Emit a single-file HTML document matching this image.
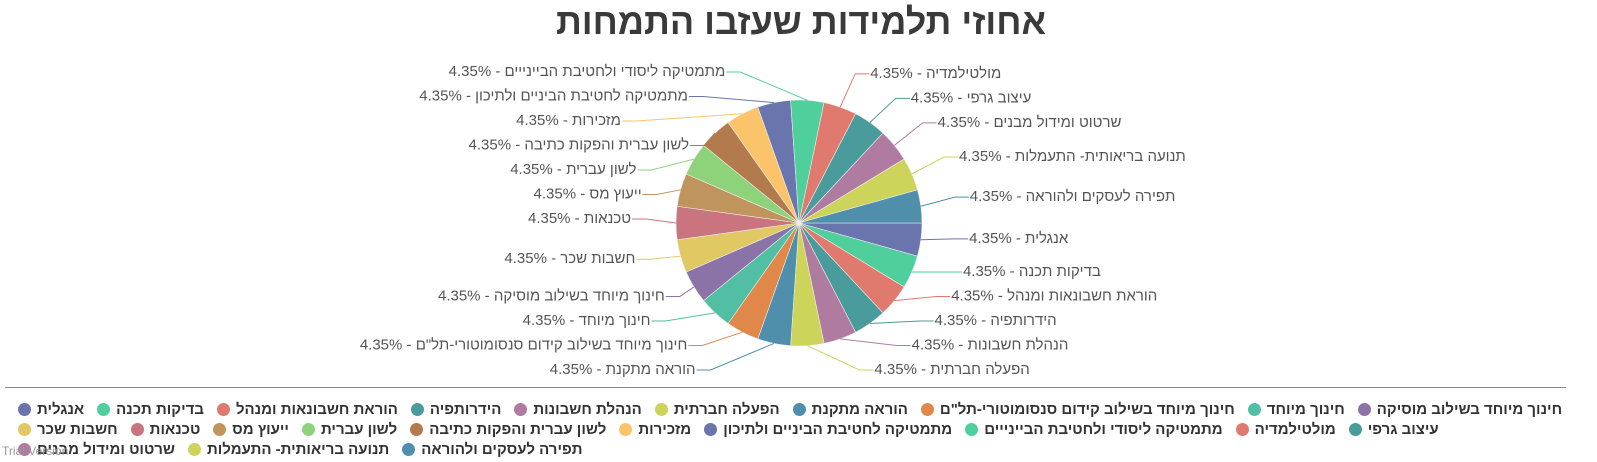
<!DOCTYPE html>
<html><head><meta charset="utf-8">
<style>
body{margin:0;background:#fff;width:1597px;height:462px;overflow:hidden;position:relative;font-family:"Liberation Sans","DejaVu Sans",sans-serif}
#title{position:absolute;left:0;width:1602px;top:1px;text-align:center;font-size:36px;font-weight:bold;color:#3a3a3a;direction:rtl}
#sep{position:absolute;left:5px;width:1561px;top:387px;height:1px;background:#888}
#legend{position:absolute;left:18px;top:400px;width:1570px;display:flex;flex-wrap:wrap;column-gap:13px;row-gap:1px}
.li{display:flex;align-items:center;font-size:15px;font-weight:bold;color:#333;height:19px;white-space:nowrap}
.dot{width:13px;height:13px;border-radius:50%;margin-right:6px}
#trial{position:absolute;left:2px;top:444px;font-size:12px;color:#999}
svg{position:absolute;left:0;top:0}
</style></head><body>
<div id="title">אחוזי תלמידות שעזבו התמחות</div>
<svg id="chart" width="1597" height="385"></svg>
<div id="sep"></div>
<div id="legend"></div>
<div id="trial">Trial Version</div>
<script>
const categories=["אנגלית","בדיקות תכנה","הוראת חשבונאות ומנהל","הידרותפיה","הנהלת חשבונות","הפעלה חברתית","הוראה מתקנת","חינוך מיוחד בשילוב קידום סנסומוטורי-תל\"ם","חינוך מיוחד","חינוך מיוחד בשילוב מוסיקה","חשבות שכר","טכנאות","ייעוץ מס","לשון עברית","לשון עברית והפקות כתיבה","מזכירות","מתמטיקה לחטיבת הביניים ולתיכון","מתמטיקה ליסודי ולחטיבת הביינייים","מולטילמדיה","עיצוב גרפי","שרטוט ומידול מבנים","תנועה בריאותית- התעמלות","תפירה לעסקים ולהוראה"];
const values=[4.35,4.35,4.35,4.35,4.35,4.35,4.35,4.35,4.35,4.35,4.35,4.35,4.35,4.35,4.35,4.35,4.35,4.35,4.35,4.35,4.35,4.35,4.35];
const palette=["#6a74ad","#4fcf9b","#e07a6f","#4a9b9b","#b07ba0","#cdd45a","#4f8fac","#e0874a","#52bfa5","#8b73a8","#e0c862","#c9747e","#c0955d","#8ed37a","#b37a4d","#fbc46a"];
// label layout tweaks (horizontal pixel nudges, layout only)
const labelNudge={17:-34,16:-10,15:-49,14:37,13:-4,12:8,9:15,8:-16,7:-5,6:-46,5:18,4:6,3:3,19:8,20:8,21:7,22:5,0:3,1:4,2:3};
const NS="http://www.w3.org/2000/svg";
const svg=document.getElementById('chart');
const cx=799,cy=223,r=123;
const total=values.reduce((a,b)=>a+b,0);
function mk(t,a){const e=document.createElementNS(NS,t);for(const k in a)e.setAttribute(k,a[k]);return e;}
let ang=0;const labels=[];
values.forEach((v,i)=>{
  const a0=ang,a1=ang+v/total*Math.PI*2;ang=a1;
  const col=palette[i%palette.length];
  const p=mk('path',{d:`M${cx},${cy}L${cx+r*Math.cos(a0)},${cy+r*Math.sin(a0)}A${r},${r} 0 ${a1-a0>Math.PI?1:0} 1 ${cx+r*Math.cos(a1)},${cy+r*Math.sin(a1)}Z`,fill:col,stroke:'#eee','stroke-width':0.6});
  
  
  svg.appendChild(p);
  const mid=(a0+a1)/2,deg=mid*180/Math.PI;
  const right=(deg<90||deg>280);
  labels.push({i,mid,right,col,y:cy+(r+30)*Math.sin(mid)-5});
});
[true,false].forEach(side=>{
  const L=labels.filter(l=>l.right===side).sort((a,b)=>a.y-b.y);
  const sp=24.5,top=72,bot=370;
  for(let k=0;k<L.length;k++){if(k===0)L[k].y=Math.max(L[k].y,top);else L[k].y=Math.max(L[k].y,L[k-1].y+sp);}
  if(L[L.length-1].y>bot){L[L.length-1].y=bot;for(let k=L.length-2;k>=0;k--)L[k].y=Math.min(L[k].y,L[k+1].y-sp);}
});
labels.forEach(l=>{
  const s=l.right?1:-1;
  const ax=cx+r*Math.cos(l.mid),ay=cy+r*Math.sin(l.mid);
  const R2=r+30,dy=l.y-cy;
  let ex=s>0?Math.max(ax+15,cx+Math.sqrt(Math.max(0,R2*R2-dy*dy))):Math.min(ax-15,cx-Math.sqrt(Math.max(0,R2*R2-dy*dy)));
  ex+=(labelNudge[l.i]||0);
  const ln=mk('polyline',{points:`${ax},${ay} ${ex},${l.y} ${ex+s*14},${l.y}`,fill:'none',stroke:l.col,'stroke-width':1});
  
  
  svg.appendChild(ln);
  const t=mk('text',{x:ex+s*15,y:l.y,'dominant-baseline':'middle','text-anchor':s>0?'start':'end','font-size':'15',fill:'#555','font-family':'"Liberation Sans","DejaVu Sans",sans-serif'});
  t.textContent=values[l.i].toFixed(2)+'% - '+categories[l.i];
  
  
  svg.appendChild(t);
});
const lg=document.getElementById('legend');
categories.forEach((c,i)=>{
  const d=document.createElement('div');d.className='li';
  
  
  const dot=document.createElement('span');dot.className='dot';dot.style.background=palette[i%palette.length];
  
  
  const tx=document.createElement('span');tx.textContent=c;
  d.appendChild(dot);d.appendChild(tx);lg.appendChild(d);
});
</script>
</body></html>
